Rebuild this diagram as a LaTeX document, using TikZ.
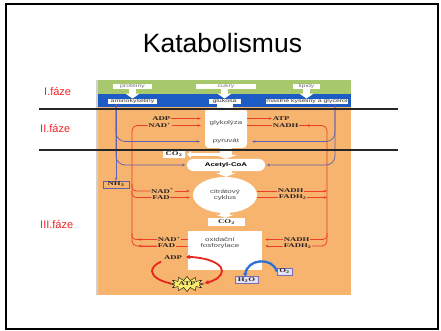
\documentclass[tikz,border=0pt]{standalone}
\usepackage{fontspec}
\setmainfont{Liberation Sans}
\newfontfamily\widesans[FakeStretch=1.45]{Liberation Sans}
\newfontfamily\wideserif[FakeStretch=1.5]{Liberation Serif}
\usetikzlibrary{arrows.meta,shapes.geometric,shapes.symbols}

\definecolor{bgorange}{RGB}{246,180,110}
\definecolor{bggreen}{RGB}{168,200,110}
\definecolor{bgblue}{RGB}{28,92,196}
\definecolor{flowred}{RGB}{236,62,40}
\definecolor{cyclered}{RGB}{232,36,28}
\definecolor{flowpurple}{RGB}{96,96,176}
\definecolor{phasered}{RGB}{240,36,36}
\definecolor{waterblue}{RGB}{44,112,214}
\definecolor{atpyellow}{RGB}{250,236,110}
\definecolor{boxlilac}{RGB}{228,226,246}
\definecolor{boxedge}{RGB}{118,108,178}
\definecolor{inktext}{RGB}{45,35,35}

\tikzset{
  chem/.style={font=\wideserif\bfseries\fontsize{5.8}{6}\selectfont, text=inktext, inner sep=0.6pt},
  tinytext/.style={font=\widesans\fontsize{4.8}{5}\selectfont, inner sep=0pt},
  srcbox/.style={tinytext, fill=white, text=black!55, minimum height=5.5pt},
  flowtext/.style={font=\widesans\fontsize{5.5}{6.5}\selectfont, text=black!70, align=center},
  fatarrow/.style={draw=white, line width=7pt, -{Triangle[width=14pt,length=5pt]}},
  rline/.style={draw=flowred, line width=0.75pt},
  rarr/.style={rline, -{Stealth[length=3.2pt,width=2.6pt]}},
  pline/.style={draw=flowpurple, line width=0.75pt},
  parr/.style={pline, -{Stealth[length=3.2pt,width=2.6pt]}},
  gasbox/.style={chem, fill=boxlilac, draw=boxedge, line width=0.5pt, inner sep=1pt},
  cyc/.style={draw=cyclered, line width=1.8pt},
  phase/.style={font=\fontsize{11}{12}\selectfont, text=phasered, anchor=base west, inner sep=0},
  sep/.style={draw=black!85, line width=1.2pt}
}

\begin{document}
\begin{tikzpicture}[x=1pt,y=-1pt]
\path[use as bounding box] (0,0) rectangle (441,331);
\draw[line width=2pt] (6,4) rectangle (438,329);

% title and phase labels
\node[font=\fontsize{26.5}{30}\selectfont, anchor=base, inner sep=0] (title) at (222.5,53) {Katabolismus};
\node[phase] (f1) at (44,96) {I.fáze};
\node[phase] (f2) at (40,133) {II.fáze};
\node[phase] (f3) at (40,228) {III.fáze};

% figure background
\fill[bgorange] (97,80) rectangle (351,295);
\fill[bggreen] (97,80) rectangle (351,94);
\fill[bgblue] (97,94) rectangle (351,107);
\fill[black!18] (96,80) rectangle (98,295);

% sources and their building blocks
\node[srcbox, minimum width=39pt] (prot) at (132.5,86.5) {proteiny};
\node[srcbox, minimum width=60pt] (cuk) at (226,86.5) {cukry};
\node[srcbox, minimum width=27pt] (lip) at (306.5,86.5) {lipidy};
\node[srcbox, minimum width=49pt, text=black!80] (amino) at (132.5,101.5) {aminokyseliny};
\node[srcbox, minimum width=32pt, text=black!80] (gluk) at (224.5,101.5) {glukosa};
\node[srcbox, minimum width=82pt, text=black!80] (mast) at (307,101.5) {mastné kyseliny a glycerol};
\draw[fatarrow] (prot.south) -- (amino.north);
\draw[fatarrow] (cuk.south -| gluk.north) -- (gluk.north);
\draw[fatarrow] (lip.south) -- (lip.south |- mast.north);

% central white column
\node[fill=white, rounded corners=4pt, minimum width=42pt, minimum height=40pt, inner sep=0] (glyk) at (226,128) {};
\draw[white, line width=16pt] (gluk.south) -- (gluk.south |- glyk.north);
\node[flowtext] (glyt) at (226,123) {glykolýza};
\node[flowtext] (pyr) at (226,141.5) {pyruvát};
\node[fill=white, rounded corners=6pt, minimum width=78pt, minimum height=12pt, inner sep=0,
      font=\widesans\bfseries\fontsize{5.4}{6}\selectfont] (acet) at (226,165) {Acetyl-CoA};
\draw[white, line width=12pt, -{Triangle[width=22pt,length=4pt]}] (glyk.south) -- (glyk.south |- acet.north);
\node[chem, fill=white, minimum width=22pt, minimum height=6pt] (co2a) at (174,154.5) {CO\textsubscript{2}};
\draw[white, line width=3pt, shorten >=2pt, -{Triangle[width=7pt,length=4pt]}] (glyk.south |- co2a) -- (co2a.east);
\node[ellipse, fill=white, minimum width=64pt, minimum height=36pt, inner sep=0, flowtext] (citr) at (225,195) {citrátový\\cyklus};
\draw[white, line width=12pt, -{Triangle[width=20pt,length=4pt]}] (acet.south) -- (acet.south |- citr.north);
\node[chem, fill=white, minimum width=37pt, minimum height=8pt] (co2b) at (226.5,222) {CO\textsubscript{2}};
\draw[white, line width=10pt, -{Triangle[width=18pt,length=3pt]}] (citr.south) -- (citr.south |- co2b.north);
\node[fill=white, minimum width=74pt, minimum height=39pt, inner sep=0] (oxf) at (225,250.5) {};
\node[flowtext, font=\widesans\fontsize{5.5}{6}\selectfont] (oxt) at (220,243) {oxidační\\fosforylace};

% cofactor labels
\node[chem, anchor=east] (adpA) at (171,118.5) {ADP};
\node[chem, anchor=east] (nadA) at (172,125.5) {NAD\textsuperscript{+}};
\node[chem, anchor=west] (atpA) at (272,118.5) {ATP};
\node[chem, anchor=west] (nadhA) at (272,125.5) {NADH};
\node[chem] (nadB) at (162.5,191) {NAD\textsuperscript{+}};
\node[chem] (fadB) at (161,197.5) {FAD};
\node[chem, anchor=west] (nadhB) at (277,191) {NADH};
\node[chem, anchor=west] (fadhB) at (278,197.5) {FADH\textsubscript{2}};
\node[chem, anchor=west] (nadC) at (157,239.5) {NAD\textsuperscript{+}};
\node[chem, anchor=west] (fadC) at (157,246) {FAD};
\node[chem, anchor=west] (nadhC) at (283,239.5) {NADH};
\node[chem, anchor=west] (fadhC) at (283,246) {FADH\textsubscript{2}};

% red cofactor flows, left side
\coordinate (lt) at (132,125.5);
\coordinate (rt) at (327,125.5);
\draw[rarr, shorten >=4pt] (adpA.east) -- (adpA.east -| glyk.west);
\draw[rarr, shorten >=4pt] (nadA.east) -- (nadA.east -| glyk.west);
\draw[rline, rounded corners=5pt] (nadA.west) -| (lt |- fadC.west) -- (fadC.west);
\draw[rline, rounded corners=4pt] (lt |- 0,184) |- (nadB.west);
\draw[rline, rounded corners=4pt] (lt |- 0,190.5) |- (fadB.west);
\draw[rline, rounded corners=4pt] (lt |- 0,233) |- (nadC.west);
\draw[rarr] (nadC.west) -- ++(-19,0);
\draw[rarr] (fadC.west) -- ++(-19,0);
\draw[rarr, shorten >=3pt] (nadB.east) -- (nadB.east -| citr.west);
\draw[rarr, shorten >=3pt] (fadB.east) -- (fadB.east -| citr.west);
\draw[rline] (oxf.west |- nadC.east) -- (nadC.east);
\draw[rline] (oxf.west |- fadC.east) -- (fadC.east);

% red cofactor flows, right side
\draw[rarr] (glyk.east |- atpA.west) -- (atpA.west);
\draw[rline] (glyk.east |- nadhA.west) -- (nadhA.west);
\draw[rline, rounded corners=5pt] (nadhA.east) -| (rt |- fadhC.east) -- (fadhC.east);
\draw[rarr] (nadhA.east) -- ++(12,0);
\draw[rline] (citr.east |- nadhB.west) -- (nadhB.west);
\draw[rline] (citr.east |- fadhB.west) -- (fadhB.west);
\draw[rarr] (nadhB.east) -- (nadhB.east -| rt);
\draw[rarr] (fadhB.east) -- (fadhB.east -| rt);
\draw[rline, rounded corners=4pt] (rt |- 0,233) |- (nadhC.east);
\draw[rarr, shorten >=3pt] (nadhC.west) -- (nadhC.west -| oxf.east);
\draw[rarr, shorten >=3pt] (fadhC.west) -- (fadhC.west -| oxf.east);

% purple flows of amino acids and fatty acids
\node[chem, draw=flowpurple, line width=0.6pt, minimum width=26pt, minimum height=7pt] (nh3) at (116,184.5) {NH\textsubscript{3}};
\coordinate (pr) at (335,104);
\draw[parr] (amino.south -| nh3.north) -- (nh3.north);
\draw[parr, rounded corners=9pt, shorten >=5pt] (amino.south -| nh3.north) |- (pyr -| glyk.west);
\draw[parr, rounded corners=9pt, shorten >=1.5pt] (amino.south -| nh3.north) |- (acet.west);
\draw[parr, rounded corners=9pt, shorten >=5pt] (pr) |- (pyr -| glyk.east);
\draw[parr, rounded corners=9pt, shorten >=1.5pt] (pr) |- (acet.east);

% ADP / ATP cycle
\draw[cyc, -{Stealth[length=4.5pt,width=4.5pt]}] (222,271) arc[start angle=0, end angle=-92, x radius=35, y radius=14];
\draw[cyc, -{Stealth[length=4.5pt,width=4.5pt]}] (222,271) arc[start angle=0, end angle=60, x radius=35, y radius=14];
\draw[cyc] (170.6,283.4) arc[start angle=118, end angle=222, x radius=35, y radius=14];
\node[chem] (adpD) at (173,257.5) {ADP};
\node[starburst, starburst points=12, starburst point height=4pt, random starburst=0,
      fill=atpyellow, draw=black, line width=0.4pt, minimum width=29pt, minimum height=15pt,
      inner sep=0, chem] (atpD) at (187,284) {ATP};

% water formation
\node[gasbox, minimum width=23pt, minimum height=6pt] (h2o) at (246.5,280) {H\textsubscript{2}O};
\node[gasbox, minimum width=15pt, minimum height=6.5pt] (o2) at (284.5,271.5) {O\textsubscript{2}};
\draw[draw=waterblue, line width=2.3pt, -{Stealth[length=3pt,width=5pt]}] (o2.west) .. controls (273,257) and (247,258) .. (h2o.north -| 245,0);

% phase separators
\draw[sep] (39,109) -- (398,109);
\draw[sep] (39,150) -- (398,150);
\end{tikzpicture}
\end{document}
